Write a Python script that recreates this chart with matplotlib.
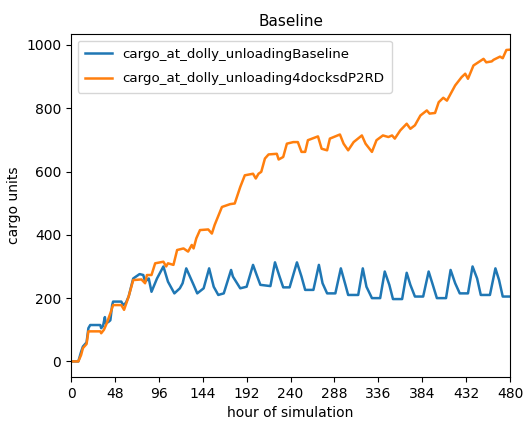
import matplotlib
matplotlib.use("Agg")
import matplotlib.pyplot as plt
import numpy as np

# hours and values
base_hours = [0, 8, 11, 13, 17, 19, 21, 32, 33, 35, 37, 38, 41, 43, 45, 46, 55, 57, 60, 63, 68,
              75, 79, 81, 85, 88, 94, 101, 106, 113, 119, 122, 126, 130, 134, 138, 145, 151,
              156, 161, 167, 175, 177, 185, 192, 199, 203, 207, 218, 223, 228, 232, 239, 247,
              252, 256, 265, 271, 275, 280, 289, 295, 300, 303, 314, 319, 323, 329, 338, 343,
              348, 352, 362, 367, 371, 376, 385, 391, 395, 400, 410, 415, 420, 425, 434, 439,
              444, 448, 458, 464, 468, 472, 480]
base_vals = [0, 0, 30, 47, 60, 105, 115, 115, 105, 112, 140, 120, 125, 130, 178, 189, 189, 178,
             185, 205, 262, 276, 273, 252, 262, 220, 262, 300, 252, 215, 231, 247, 294, 268,
             242, 215, 231, 294, 236, 210, 215, 289, 268, 231, 236, 305, 273, 242, 238, 313,
             268, 234, 234, 313, 268, 226, 226, 305, 247, 215, 215, 294, 242, 210, 210, 294,
             236, 200, 200, 284, 242, 197, 197, 280, 242, 205, 205, 284, 247, 200, 200, 289,
             247, 215, 215, 300, 262, 210, 210, 294, 257, 205, 205]

dock_hours = [0, 8, 11, 13, 17, 19, 32, 33, 36, 39, 43, 46, 55, 58, 63, 68, 77, 81, 83, 88, 92,
              101, 104, 106, 112, 116, 123, 128, 132, 134, 137, 141, 150, 154, 157, 165, 174,
              179, 185, 190, 199, 202, 205, 208, 212, 216, 225, 227, 232, 236, 243, 248, 252,
              256, 259, 270, 274, 280, 283, 294, 298, 303, 309, 318, 322, 329, 334, 341, 347,
              351, 354, 360, 367, 371, 376, 382, 389, 392, 398, 402, 407, 411, 414, 420, 427,
              431, 434, 440, 451, 454, 460, 462, 469, 472, 476, 480]
dock_vals = [0, 0, 20, 42, 55, 95, 95, 89, 100, 120, 152, 178, 178, 163, 205, 257, 259, 247, 273,
             273, 310, 315, 300, 310, 305, 352, 357, 347, 368, 357, 389, 415, 417, 404, 431, 488,
             497, 499, 551, 588, 593, 578, 593, 599, 641, 654, 656, 638, 646, 688, 693, 693, 662,
             662, 699, 711, 672, 667, 704, 717, 688, 667, 693, 714, 688, 662, 699, 714, 709, 714,
             704, 730, 751, 735, 746, 777, 793, 783, 785, 819, 833, 824, 840, 872, 898, 909, 893,
             935, 956, 945, 948, 953, 963, 958, 984, 985]

fig = plt.figure(figsize=(5.28, 4.26), dpi=100)
ax = fig.add_axes([0.1345, 0.115, 0.8315, 0.805])

ax.plot(base_hours, base_vals, color="#1f77b4", lw=1.8, label="cargo_at_dolly_unloadingBaseline")
ax.plot(dock_hours, dock_vals, color="#ff7f0e", lw=1.8, label="cargo_at_dolly_unloading4docksdP2RD")

ax.set_xlim(0, 480)
ax.set_xticks(np.arange(0, 481, 48))
ax.set_yticks([0, 200, 400, 600, 800, 1000])
ax.set_title("Baseline", fontsize=11)
ax.set_xlabel("hour of simulation", fontsize=10)
ax.set_ylabel("cargo units", fontsize=10)
ax.tick_params(labelsize=10)
ax.legend(loc="upper left", fontsize=9.6, labelspacing=0.85, borderpad=0.55)

fig.savefig("out.png", dpi=100)
